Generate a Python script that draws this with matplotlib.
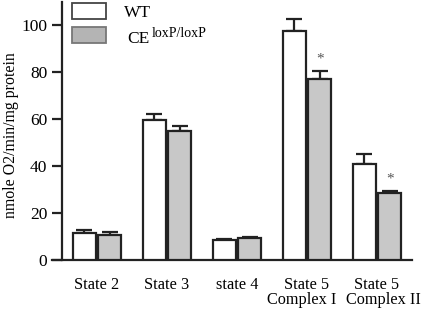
import matplotlib
matplotlib.use('Agg')
import matplotlib.pyplot as plt
import matplotlib.transforms as mtransforms
from matplotlib.patches import Rectangle
import numpy as np

plt.rcParams['font.family'] = ['Liberation Serif', 'DejaVu Serif']

# ДАННЫЕ
categories = ['State 2', 'State 3', 'state 4', 'State 5', 'State 5']
sublabels = ['', '', '', 'Complex I', 'Complex II']
wt_vals = [11.4, 59.6, 8.5, 97.4, 40.9]
wt_err = [1.4, 2.5, 0.6, 5.1, 4.2]
ce_vals = [10.6, 54.9, 9.2, 77.0, 28.5]
ce_err = [1.3, 2.1, 0.5, 3.4, 0.9]
ce_star = [False, False, False, True, True]

W, H = 423, 331
fig = plt.figure(figsize=(W / 100, H / 100), dpi=100)
ax = fig.add_axes([52 / W, 1 - 260 / H, 360 / W, 258.5 / H])

x = np.arange(len(categories))
bw = 0.33
off = 0.18
edge = '#222222'

ax.bar(x - off, wt_vals, bw, color='white', edgecolor=edge, linewidth=1.6, zorder=3)
ax.bar(x + off, ce_vals, bw, color='#c8c8c8', edgecolor=edge, linewidth=1.6, zorder=3)
ax.errorbar(x - off, wt_vals, yerr=[np.zeros(len(wt_err)), wt_err], fmt='none',
            ecolor=edge, elinewidth=1.6, capsize=5.8, capthick=1.6, zorder=2)
ax.errorbar(x + off, ce_vals, yerr=[np.zeros(len(ce_err)), ce_err], fmt='none',
            ecolor=edge, elinewidth=1.6, capsize=5.8, capthick=1.6, zorder=2)

for xi, v, e, s in zip(x + off, ce_vals, ce_err, ce_star):
    if s:
        ax.text(xi, v + e + 5, '*', ha='center', va='center', fontsize=11, color='#555555')

ax.set_xlim(-0.643, 4.5)
ax.set_ylim(0, 110)
ax.spines['top'].set_visible(False)
ax.spines['right'].set_visible(False)
ax.spines['left'].set_position(('data', -0.5))
ax.spines['left'].set_linewidth(1.6)
ax.spines['bottom'].set_linewidth(1.6)
ax.spines['left'].set_color(edge)
ax.spines['bottom'].set_color(edge)

ax.set_yticks([0, 20, 40, 60, 80, 100])
ax.tick_params(axis='y', direction='out', length=7.2, width=1.6, color=edge,
               labelsize=12.5, pad=3.5)
ax.set_xticks(x)
ax.set_xticklabels(categories, fontsize=11.7)
ax.tick_params(axis='x', length=0, pad=12)

# вторая строка подписей (Complex I / Complex II) со сдвигом
shifts = [0, 0, 0, -5, 6]
for xi, lab, sh in zip(x, sublabels, shifts):
    if lab:
        tr = mtransforms.blended_transform_factory(ax.transData, fig.transFigure) + \
            mtransforms.ScaledTranslation(sh / 100, 0, fig.dpi_scale_trans)
        ax.text(xi, 1 - 304 / H, lab, transform=tr,
                ha='center', va='baseline', fontsize=11.7)

ax.set_ylabel('nmole O2/min/mg protein', fontsize=11.4)
ax.yaxis.set_label_coords(-33 / 360, 0.484)

# Легенда
def fx(px):
    return px / W

def fy(py):
    return 1 - py / H

fig.patches.append(Rectangle((fx(72), fy(19)), 34 / W, 16 / H, transform=fig.transFigure,
                             facecolor='white', edgecolor='#444444', linewidth=1.3))
fig.patches.append(Rectangle((fx(72), fy(43)), 34 / W, 16 / H, transform=fig.transFigure,
                             facecolor='#b4b4b4', edgecolor='#777777', linewidth=1.3))
fig.text(fx(124), fy(17), 'WT', fontsize=12.5, va='baseline')
fig.text(fx(127), fy(43), 'CE', fontsize=12.5, va='baseline')
fig.text(fx(152), fy(37), 'loxP/loxP', fontsize=10, va='baseline')

fig.savefig('out.png', dpi=100)
